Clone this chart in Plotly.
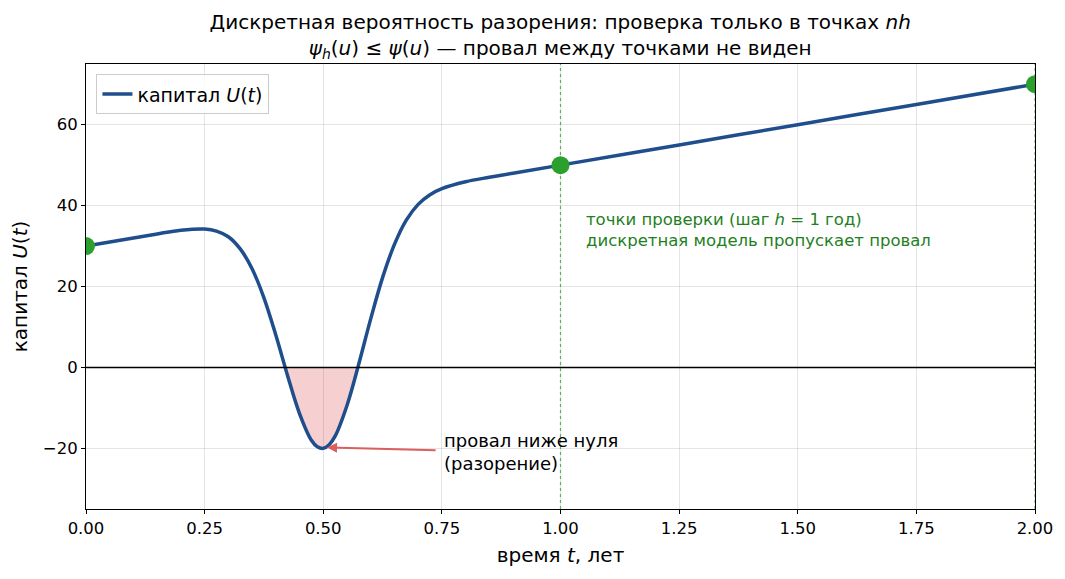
import plotly.graph_objects as go

# --- data ---
t_vals = [0.0, 0.05, 0.10, 0.15, 0.20, 0.25, 0.275, 0.30, 0.325, 0.35, 0.375,
          0.40, 0.425, 0.45, 0.475, 0.4875, 0.50, 0.5125, 0.525, 0.55, 0.575, 0.60, 0.625,
          0.65, 0.675, 0.70, 0.725, 0.75, 0.80, 0.85, 0.90, 1.00, 1.25,
          1.50, 1.75, 2.00]
u_vals = [30.0, 31.0, 32.0, 33.0, 33.9, 34.2, 33.7, 32.3, 29.3, 24.4, 17.2,
          8.0, -2.1, -11.4, -18.0, -19.6, -20.0, -19.1, -17.0, -9.4, 0.9, 12.0, 22.2,
          30.4, 36.4, 40.3, 42.7, 44.2, 45.9, 47.0, 48.0, 50.0, 55.0,
          60.0, 65.0, 70.0]
check_t = [0.0, 1.0, 2.0]
check_u = [30.0, 50.0, 70.0]
x_ticks = [0.0, 0.25, 0.5, 0.75, 1.0, 1.25, 1.5, 1.75, 2.0]
y_ticks = [-20, 0, 20, 40, 60]

BLUE = "#1f4e8c"
GREEN = "#2ca02c"
TEXT_GREEN = "#1e801e"
FONT = "DejaVu Sans"

# negative dip region (with zero crossings) for the shading
fill_t, fill_u = [], []
for i in range(1, len(t_vals)):
    t0, u0, t1, u1 = t_vals[i - 1], u_vals[i - 1], t_vals[i], u_vals[i]
    if (u0 >= 0) != (u1 >= 0):
        tc = t0 + (t1 - t0) * u0 / (u0 - u1)
        fill_t.append(tc)
        fill_u.append(0.0)
    if u1 < 0:
        fill_t.append(t1)
        fill_u.append(u1)

fig = go.Figure()
fig.add_trace(go.Scatter(x=fill_t, y=fill_u, mode="lines", line=dict(width=0, shape="spline"),
                         fill="tozeroy", fillcolor="rgba(214,39,40,0.22)",
                         showlegend=False, hoverinfo="skip"))
fig.add_trace(go.Scatter(x=t_vals, y=u_vals, mode="lines",
                         line=dict(color=BLUE, width=3.5, shape="spline", smoothing=1.0),
                         name="капитал <i>U</i>(<i>t</i>)"))
fig.add_trace(go.Scatter(x=check_t, y=check_u, mode="markers",
                         marker=dict(color=GREEN, size=18), showlegend=False,
                         cliponaxis=True))

# zero line and check-point verticals
fig.add_shape(type="line", xref="paper", yref="y", x0=0, x1=1, y0=0, y1=0,
              line=dict(color="black", width=1.5))
for tv in check_t[1:]:
    fig.add_shape(type="line", xref="x", yref="paper", x0=tv, x1=tv, y0=0, y1=1,
                  line=dict(color="rgba(44,160,44,0.75)", width=1.2, dash="dot"))

# annotations
fig.add_annotation(x=0.508, y=-19.8, ax=0.74, ay=-20.5, xref="x", yref="y",
                   axref="x", ayref="y", text="", showarrow=True,
                   arrowhead=2, arrowsize=1, arrowwidth=2, arrowcolor="#d9605f")
fig.add_annotation(x=0.75, y=-21.0, xref="x", yref="y", showarrow=False,
                   text="провал ниже нуля<br>(разорение)", xanchor="left",
                   yanchor="middle", align="left",
                   font=dict(family=FONT, size=18, color="black"))
fig.add_annotation(x=1.05, y=34.0, xref="x", yref="y", showarrow=False,
                   text="точки проверки (шаг <i>h</i> = 1 год)<br>дискретная модель пропускает провал",
                   xanchor="left", yanchor="middle", align="left",
                   font=dict(family=FONT, size=16.5, color=TEXT_GREEN))

fig.update_layout(
    width=1065, height=579,
    paper_bgcolor="white", plot_bgcolor="white",
    margin=dict(l=86, r=30, t=64, b=70),
    font=dict(family=FONT, size=16.5, color="black"),
    title=dict(
        text="Дискретная вероятность разорения: проверка только в точках <i>nh</i><br>"
             "<i>ψ</i><sub><i>h</i></sub>(<i>u</i>) ≤ <i>ψ</i>(<i>u</i>) — провал между точками не виден",
        x=0.526, xanchor="center", yref="container", y=1 - 29 / 579, yanchor="middle",
        font=dict(family=FONT, size=20)),
    legend=dict(x=0.011, y=0.977, xanchor="left", yanchor="top",
                bgcolor="rgba(255,255,255,0.8)", bordercolor="#cccccc", borderwidth=1,
                font=dict(family=FONT, size=19)),
    showlegend=True,
)
fig.update_xaxes(range=[0, 2], tickvals=x_ticks, tickformat=".2f",
                 showgrid=True, gridcolor="rgba(0,0,0,0.1)", zeroline=False,
                 showline=True, linecolor="black", linewidth=1, mirror=True,
                 ticks="outside", ticklen=4, tickcolor="black",
                 title=dict(text="время <i>t</i>, лет", font=dict(size=20), standoff=11))
fig.update_yaxes(range=[-35, 75], tickvals=y_ticks,
                 showgrid=True, gridcolor="rgba(0,0,0,0.1)", zeroline=False,
                 showline=True, linecolor="black", linewidth=1, mirror=True,
                 ticks="outside", ticklen=4, tickcolor="black",
                 title=dict(text="капитал <i>U</i>(<i>t</i>)", font=dict(size=20), standoff=9))

fig.write_html("out.html")
